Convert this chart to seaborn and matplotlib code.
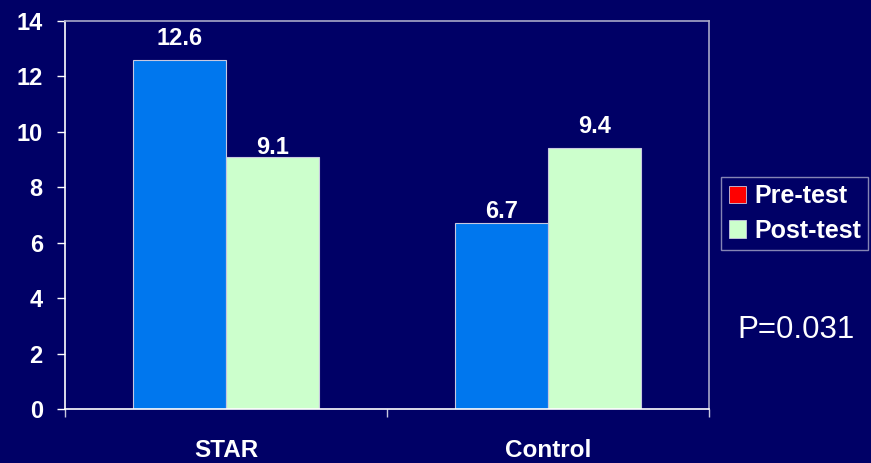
import matplotlib
matplotlib.use("Agg")
import matplotlib.pyplot as plt
from matplotlib.patches import Patch
import seaborn as sns
import pandas as pd

groups = ["STAR", "Control"]
series = ["Pre-test", "Post-test"]
pre_values = [12.6, 6.7]
post_values = [9.1, 9.4]
yticks = [0, 2, 4, 6, 8, 10, 12, 14]

BG = "#000066"
BAR_COLORS = {"Pre-test": "#0077EE", "Post-test": "#CCFFCC"}
LEGEND_COLORS = {"Pre-test": "#FF0000", "Post-test": "#CCFFCC"}

df = pd.DataFrame({
    "group": groups * 2,
    "series": [series[0]] * len(groups) + [series[1]] * len(groups),
    "value": pre_values + post_values,
})

sns.set_theme(style="white")
plt.rcParams["font.family"] = ["Liberation Sans", "DejaVu Sans"]

fig = plt.figure(figsize=(8.71, 4.63), dpi=100)
fig.patch.set_facecolor(BG)
ax = fig.add_axes([65 / 871, 54 / 463, 644 / 871, 388 / 463])
ax.set_facecolor(BG)

sns.barplot(data=df, x="group", y="value", hue="series", order=groups,
            hue_order=series, palette=BAR_COLORS, width=0.58, ax=ax,
            saturation=1, edgecolor="#C8C8E0", linewidth=0.8,
            errorbar=None, legend=False)

ax.set_xlim(-0.5, len(groups) - 0.5)
ax.set_ylim(0, 14)
ax.set_yticks(yticks)
ax.set_yticklabels([str(t) for t in yticks], color="white",
                   fontsize=17, fontweight="bold")
ax.tick_params(axis="y", direction="out", length=6, width=1, color="white",
               left=True, pad=10)

ax.set_xticks(range(len(groups)))
ax.set_xticklabels(groups, color="white", fontsize=17.5, fontweight="bold")
ax.tick_params(axis="x", which="major", length=0, pad=21.5)
ax.set_xticks([i - 0.5 for i in range(len(groups) + 1)], minor=True)
ax.tick_params(axis="x", which="minor", direction="out", length=6, width=1,
               color="#C8C8E0", bottom=True)
ax.set_xlabel("")
ax.set_ylabel("")

for side in ["left", "bottom"]:
    ax.spines[side].set_color("white")
    ax.spines[side].set_linewidth(1.2)
for side in ["top", "right"]:
    ax.spines[side].set_visible(True)
    ax.spines[side].set_color("#A8A8C8")
    ax.spines[side].set_linewidth(1.2)

# value labels: baseline offset above the bar top, in points (per series, per group)
label_pads = [[11, 3.6], [2.2, 11.5]]
for cont, pads in zip(ax.containers, label_pads):
    for bar, pad in zip(cont, pads):
        h = bar.get_height()
        ax.annotate(f"{h:.1f}", (bar.get_x() + bar.get_width() / 2, h),
                    xytext=(0, pad), textcoords="offset points",
                    ha="center", va="baseline", color="white",
                    fontsize=17, fontweight="bold")

handles = [Patch(facecolor=LEGEND_COLORS[s], edgecolor="#C8C8E0", linewidth=0.6)
           for s in series]
leg = fig.legend(handles, series, loc="upper left",
                 bbox_to_anchor=(721 / 871, 1 - 177 / 463),
                 frameon=True, prop={"weight": "bold", "size": 18},
                 handlelength=0.7, handleheight=0.7, handletextpad=0.32,
                 borderpad=0.3, labelspacing=0.42, borderaxespad=0,
                 fancybox=False)
leg.get_frame().set_facecolor(BG)
leg.get_frame().set_edgecolor("#A8A8C8")
leg.get_frame().set_linewidth(1.0)
for t in leg.get_texts():
    t.set_color("white")

fig.text(796 / 871, 1 - 330 / 463, "P=0.031", color="white", fontsize=22.5,
         ha="center", va="center")

fig.savefig("out.png", dpi=100, facecolor=BG)
